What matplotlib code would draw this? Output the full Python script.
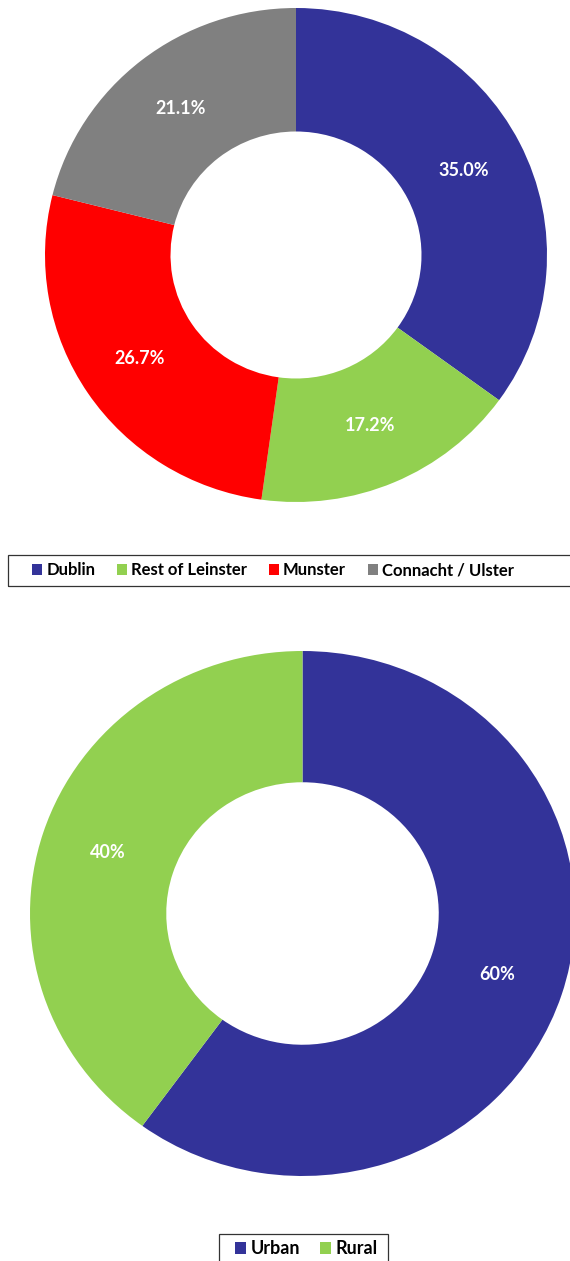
import matplotlib.pyplot as plt
from matplotlib.patches import Rectangle

plt.rcParams['font.family'] = ['Lato', 'DejaVu Sans']

W, H = 570, 1261

provinces = ['Dublin', 'Rest of Leinster', 'Munster', 'Connacht / Ulster']
province_share = [35.0, 17.2, 26.7, 21.1]
province_colors = ['#333399', '#92D050', '#FF0000', '#808080']

areas = ['Urban', 'Rural']
area_share = [60, 40]
area_colors = ['#333399', '#92D050']


def donut_axes(fig, cx, cy, rx, ry):
    # place an axes so that a unit-radius pie fills the given pixel box
    return fig.add_axes([(cx - rx) / W, (H - cy - ry) / H, 2 * rx / W, 2 * ry / H])


def draw_donut(ax, values, colors, fmt):
    wedges, texts = ax.pie(values, colors=colors, startangle=90, counterclock=False,
                           radius=1, labels=[fmt.format(v) for v in values],
                           labeldistance=0.75,
                           wedgeprops=dict(width=0.5, edgecolor='none'),
                           textprops=dict(color='white', fontsize=13, fontweight='bold',
                                          ha='center', va='center'))
    ax.set_aspect('auto')
    ax.set_xlim(-1, 1)
    ax.set_ylim(-1, 1)
    ax.axis('off')
    return wedges


def legend_box(fig, x0, y0, x1, y1):
    fig.patches.append(Rectangle((x0 / W, (H - y1) / H), (x1 - x0) / W, (y1 - y0) / H,
                                 transform=fig.transFigure, fill=False,
                                 edgecolor='#333333', linewidth=0.9))


fig = plt.figure(figsize=(W / 100, H / 100), dpi=100)

ax1 = donut_axes(fig, 296, 255, 251, 247)
w1 = draw_donut(ax1, province_share, province_colors, '{:.1f}%')

ax2 = donut_axes(fig, 302.5, 913.5, 272.5, 262.5)
w2 = draw_donut(ax2, area_share, area_colors, '{:.0f}%')

leg_kw = dict(handlelength=0.6, handleheight=0.6, handletextpad=0.25,
              frameon=False, borderpad=0, borderaxespad=0)

fig.legend(w1, provinces, loc='center left', ncol=4, columnspacing=1.3,
           bbox_to_anchor=(32 / W, (H - 570.5) / H),
           prop=dict(size=12, weight='bold'), **leg_kw)
legend_box(fig, 8, 555, 580, 586)

fig.legend(w2, areas, loc='center left', ncol=2, columnspacing=1.1,
           bbox_to_anchor=(235 / W, (H - 1249) / H),
           prop=dict(size=13, weight='bold'), **leg_kw)
legend_box(fig, 219, 1234, 388, 1270)

fig.savefig('out.png', dpi=100)
